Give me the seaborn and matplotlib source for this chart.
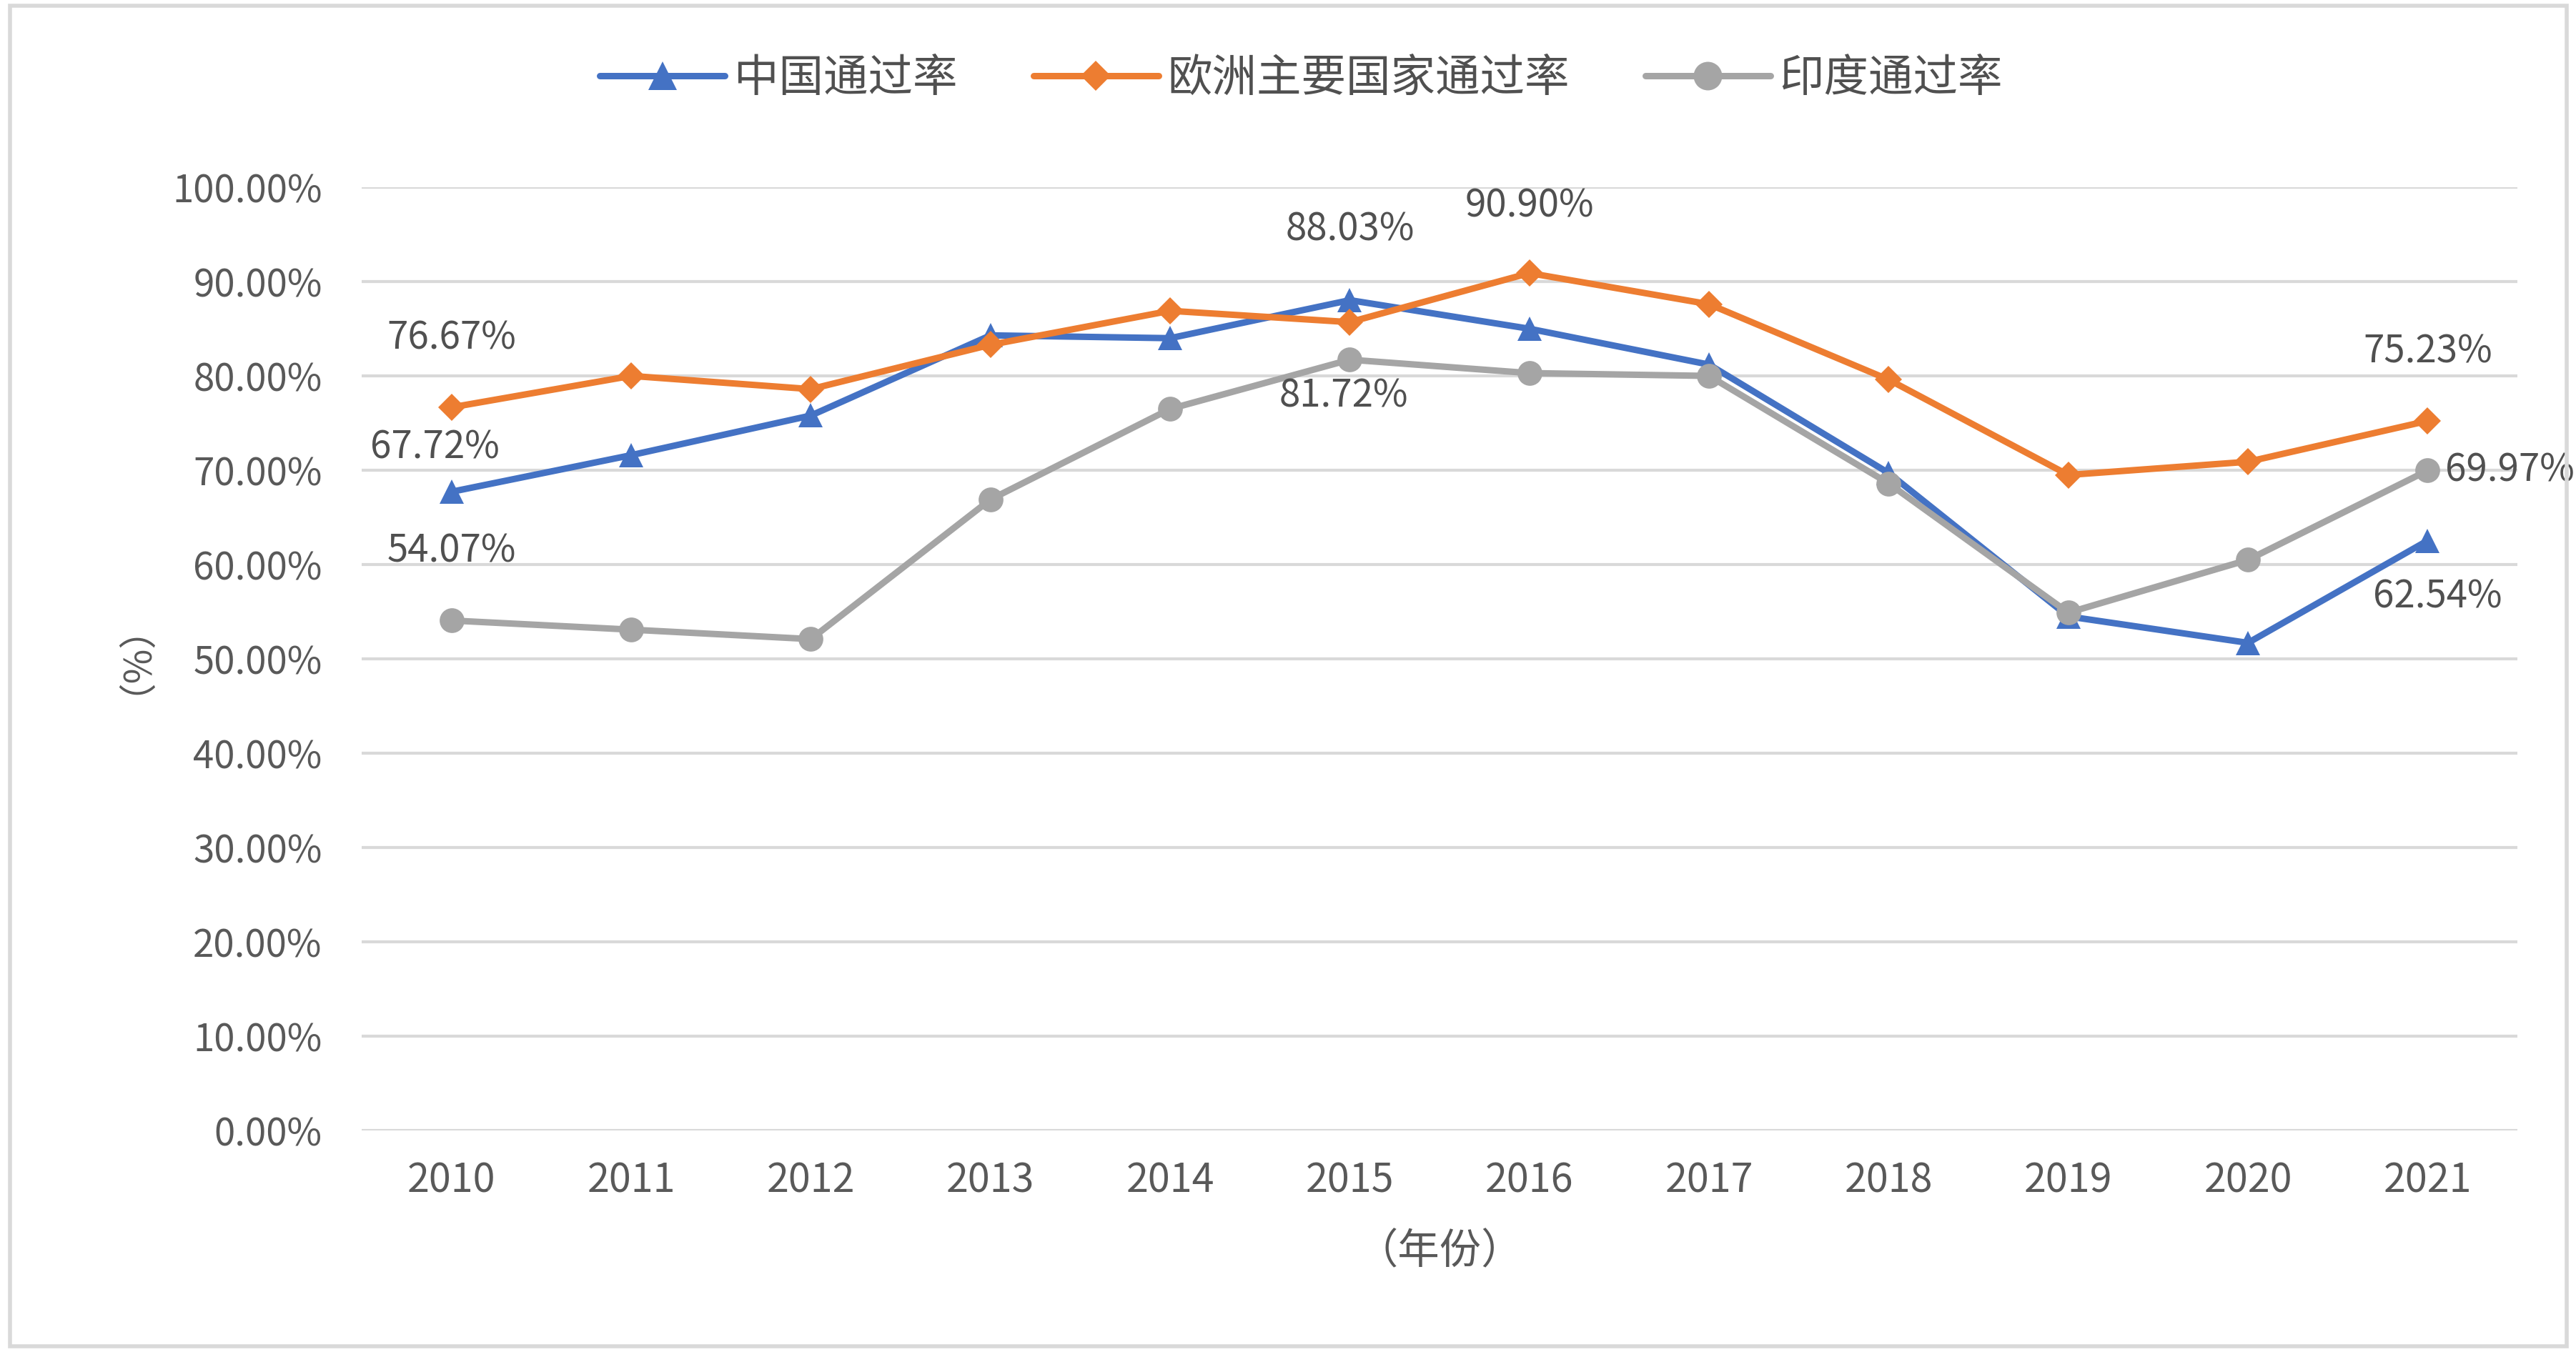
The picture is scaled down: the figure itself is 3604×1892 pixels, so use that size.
import matplotlib
matplotlib.use("Agg")
import matplotlib.pyplot as plt
import seaborn as sns
import pandas as pd
from matplotlib.ticker import FuncFormatter
from matplotlib.patches import Rectangle

years = [2010, 2011, 2012, 2013, 2014, 2015, 2016, 2017, 2018, 2019, 2020, 2021]
china = [67.72, 71.6, 75.8, 84.3, 84.0, 88.03, 85.0, 81.2, 69.7, 54.5, 51.7, 62.54]
europe = [76.67, 80.0, 78.6, 83.3, 86.9, 85.7, 90.90, 87.6, 79.6, 69.5, 70.9, 75.23]
india = [54.07, 53.1, 52.1, 66.9, 76.5, 81.72, 80.3, 80.0, 68.6, 54.9, 60.5, 69.97]
names = ["中国通过率", "欧洲主要国家通过率", "印度通过率"]
colors = ["#4472C4", "#ED7D31", "#A5A5A5"]
markers = ["^", "D", "o"]
yticks = [0, 10, 20, 30, 40, 50, 60, 70, 80, 90, 100]

sns.set_theme(style="white")
plt.rcParams['font.family'] = ['Noto Sans CJK SC', 'DejaVu Sans']

fig = plt.figure(figsize=(36.05, 18.92), dpi=100)
ax = fig.add_axes([0.1404, 0.1638, 0.977 - 0.1404, 0.8615 - 0.1638])

series = [china, europe, india]
for vals, name, c, m in zip(series, names, colors, markers):
    df = pd.DataFrame({"year": years, "val": vals})
    ms = 25 if m == "^" else (19 if m == "D" else 25)
    sns.lineplot(data=df, x="year", y="val", ax=ax, color=c, marker=m,
                 markersize=ms, linewidth=6.5, markeredgewidth=0, label=name)

ax.set_xlim(2009.5, 2021.5)
ax.set_ylim(0, 100)
ax.set_yticks(yticks)
ax.set_xticks(years)
ax.yaxis.set_major_formatter(FuncFormatter(lambda v, p: f"{v:.2f}%"))
ax.grid(axis="y", color="#D9D9D9", linewidth=3)
ax.grid(axis="x", visible=False)
for s in ax.spines.values():
    s.set_visible(False)
ax.tick_params(axis="y", labelsize=38, colors="#595959", length=0, pad=40)
ax.tick_params(axis="x", labelsize=40, colors="#595959", length=0, pad=30)
ax.set_xlabel("")
ax.set_ylabel("")
ax.set_axisbelow(True)

# data labels
lab = [
    (years[0], europe[0], 0, 97),
    (years[0], china[0], -23, 62),
    (years[0], india[0], 0, 97),
    (years[5], china[5], 0, 99),
    (years[6], europe[6], 0, 94),
    (years[5], india[5], -9, -51),
    (years[11], europe[11], 0, 97),
    (years[11], india[11], 115, 0),
    (years[11], china[11], 14, -78),
]
for x, y, dx, dy in lab:
    ax.annotate(f"{y:.2f}%", (x, y), xytext=(dx, dy), textcoords="offset pixels",
                ha="center", va="center", fontsize=38, color="#505050")

leg = ax.legend(loc="center", bbox_to_anchor=(0.505, 0.942), bbox_transform=fig.transFigure,
                ncol=3, frameon=False, fontsize=45, handlelength=2.8, markerscale=1.15,
                columnspacing=1.7, handletextpad=0.2, labelcolor="#505050")

fig.text(0.5587, 1 - 1752 / 1892, "（年份）", ha="center", va="center", fontsize=42, color="#595959")
fig.text(161 / 3605, 1 - 895 / 1892, "（%）", ha="center", va="center", fontsize=38,
         color="#595959", rotation=90)

fig.patches.append(Rectangle((0.004, 0.004), 0.992, 0.992, transform=fig.transFigure,
                             fill=False, edgecolor="#D9D9D9", linewidth=4))

fig.savefig("out.png", dpi=100, facecolor="white")
